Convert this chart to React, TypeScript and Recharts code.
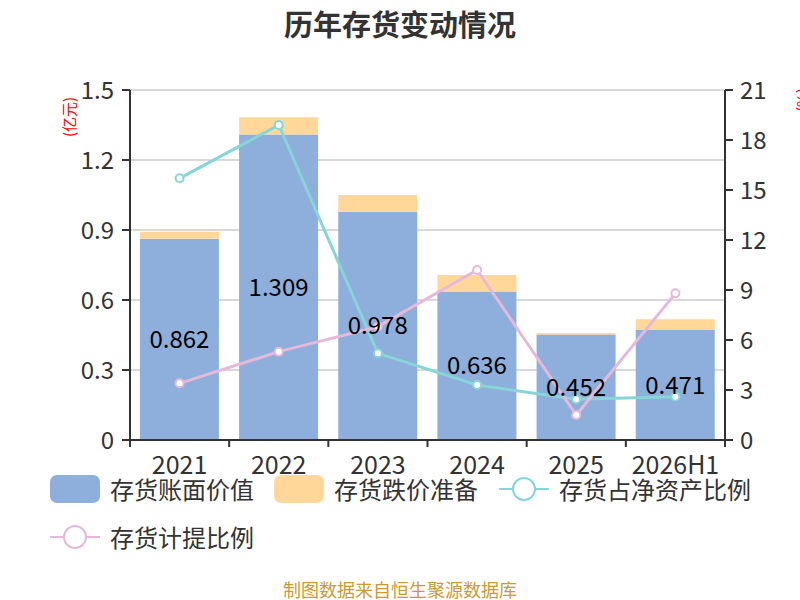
import React from 'react';
import { ComposedChart, Bar, Line, XAxis, YAxis, CartesianGrid, LabelList } from 'recharts';

const years = ['2021', '2022', '2023', '2024', '2025', '2026H1'];
const bookValue = [0.862, 1.309, 0.978, 0.636, 0.452, 0.471];
const impairment = [0.031, 0.074, 0.072, 0.071, 0.007, 0.046];
const netAssetRatio = [15.7, 18.9, 5.2, 3.3, 2.45, 2.6];
const provisionRatio = [3.4, 5.3, 6.8, 10.2, 1.5, 8.8];
const leftTicks = [0, 0.3, 0.6, 0.9, 1.2, 1.5];
const rightTicks = [0, 3, 6, 9, 12, 15, 18, 21];

const data = years.map((y, i) => ({
  name: y,
  book: bookValue[i],
  imp: impairment[i],
  net: netAssetRatio[i],
  prov: provisionRatio[i],
}));

const FONT = '"Noto Sans CJK SC", "Noto Sans", sans-serif';
const BLUE = '#8eaedb';
const ORANGE = '#ffd899';
const TEAL = '#86d5d8';
const PINK = '#e6b9da';

const PLOT_LEFT = 130;
const PLOT_RIGHT = 725;
const BAND = (PLOT_RIGHT - PLOT_LEFT) / years.length;

// x ticks sit on the category borders, labels in the middle
const XTick = (props: any) => {
  const { x, y, payload, index } = props;
  const left = x - BAND / 2;
  return (
    <g>
      <line x1={left} y1={y} x2={left} y2={y + 7} stroke="#333" strokeWidth={2} />
      {index === years.length - 1 && (
        <line x1={x + BAND / 2} y1={y} x2={x + BAND / 2} y2={y + 7} stroke="#333" strokeWidth={2} />
      )}
      <text x={x} y={y + 34} textAnchor="middle" fill="#333" fontSize={25} fontFamily={FONT}>
        {payload.value}
      </text>
    </g>
  );
};

const LegendRect = ({ color }: { color: string }) => (
  <div style={{ width: 50, height: 28, borderRadius: 7, background: color }} />
);

const LegendLine = ({ color }: { color: string }) => (
  <svg width={50} height={28}>
    <line x1={0} y1={14} x2={50} y2={14} stroke={color} strokeWidth={2} />
    <circle cx={25} cy={14} r={11} fill="#fff" stroke={color} strokeWidth={2} />
  </svg>
);

const legendText: React.CSSProperties = { fontSize: 24, color: '#333', marginLeft: 10, lineHeight: '28px' };

export default function App() {
  return (
    <div style={{ position: 'absolute', left: 0, top: 0, width: 800, height: 600, background: '#fff', fontFamily: FONT, overflow: 'hidden' }}>
      <div style={{ position: 'absolute', top: 2, width: 800, textAlign: 'center', fontSize: 29, fontWeight: 'bold', color: '#333' }}>
        历年存货变动情况
      </div>
      <ComposedChart
        width={800}
        height={600}
        data={data}
        margin={{ top: 90, right: 0, bottom: 130, left: 0 }}
        barCategoryGap="10%"
      >
        <CartesianGrid vertical={false} stroke="#ccc" strokeWidth={1.5} yAxisId="left" />
        <XAxis
          dataKey="name"
          yAxisId="left"
          height={30}
          axisLine={{ stroke: '#333', strokeWidth: 2 }}
          tickLine={false}
          tickSize={0}
          tickMargin={0}
          interval={0}
          tick={XTick}
        />
        <YAxis
          yAxisId="left"
          width={130}
          domain={[0, 1.5]}
          ticks={leftTicks}
          axisLine={{ stroke: '#333', strokeWidth: 2 }}
          tickLine={{ stroke: '#333', strokeWidth: 2 }}
          tickSize={8}
          tickMargin={8}
          tick={{ fill: '#333', fontSize: 24, fontFamily: FONT }}
          label={{
            content: () => (
              <text x={68} y={117} transform="rotate(-90 68 117)" textAnchor="middle" dominantBaseline="central" fill="#f00" fontSize={15} fontFamily={FONT}>
                (亿元)
              </text>
            ),
          }}
        />
        <YAxis
          yAxisId="right"
          orientation="right"
          width={75}
          domain={[0, 21]}
          ticks={rightTicks}
          axisLine={{ stroke: '#333', strokeWidth: 2 }}
          tickLine={{ stroke: '#333', strokeWidth: 2 }}
          tickSize={8}
          tickMargin={7}
          tick={{ fill: '#333', fontSize: 24, fontFamily: FONT }}
          label={{
            content: () => (
              <text x={801} y={100} transform="rotate(-90 801 100)" textAnchor="middle" dominantBaseline="central" fill="#f00" fontSize={15} fontFamily={FONT}>
                (%)
              </text>
            ),
          }}
        />
        <Bar yAxisId="left" dataKey="book" stackId="a" fill={BLUE} isAnimationActive={false}>
          <LabelList dataKey="book" position="center" fill="#000" fontSize={24} fontFamily={FONT} />
        </Bar>
        <Bar yAxisId="left" dataKey="imp" stackId="a" fill={ORANGE} isAnimationActive={false} />
        <Line
          yAxisId="right"
          dataKey="net"
          type="linear"
          stroke={TEAL}
          strokeWidth={3}
          dot={{ r: 4, fill: '#fff', stroke: TEAL, strokeWidth: 2 }}
          isAnimationActive={false}
        />
        <Line
          yAxisId="right"
          dataKey="prov"
          type="linear"
          stroke={PINK}
          strokeWidth={3}
          dot={{ r: 4, fill: '#fff', stroke: PINK, strokeWidth: 2 }}
          isAnimationActive={false}
        />
      </ComposedChart>
      <div style={{ position: 'absolute', left: 50, top: 475, display: 'flex', alignItems: 'center' }}>
        <LegendRect color={BLUE} />
        <span style={legendText}>存货账面价值</span>
      </div>
      <div style={{ position: 'absolute', left: 274, top: 475, display: 'flex', alignItems: 'center' }}>
        <LegendRect color={ORANGE} />
        <span style={legendText}>存货跌价准备</span>
      </div>
      <div style={{ position: 'absolute', left: 499, top: 475, display: 'flex', alignItems: 'center' }}>
        <LegendLine color={TEAL} />
        <span style={legendText}>存货占净资产比例</span>
      </div>
      <div style={{ position: 'absolute', left: 50, top: 523, display: 'flex', alignItems: 'center' }}>
        <LegendLine color={PINK} />
        <span style={legendText}>存货计提比例</span>
      </div>
      <div style={{ position: 'absolute', top: 577, width: 800, textAlign: 'center', fontSize: 18, lineHeight: '24px', color: '#cc9933' }}>
        制图数据来自恒生聚源数据库
      </div>
    </div>
  );
}
